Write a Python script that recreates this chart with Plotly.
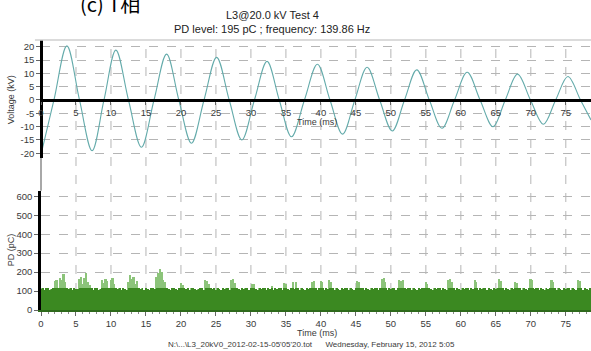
import plotly.graph_objects as go

# ---- voltage waveform: extrema and zero crossings (ms, kV) ----
volt_t = [0, 1.85, 3.7, 5.5, 7.3, 9.0, 10.7, 12.5, 14.35, 16.15, 17.95, 19.7,
          21.5, 23.3, 25.1, 26.9, 28.7, 30.5, 32.3, 34.05, 35.8, 37.65, 39.5,
          41.3, 43.1, 44.85, 46.6, 48.4, 50.2, 51.95, 53.7, 55.5, 57.3, 59.1,
          60.9, 62.75, 64.6, 66.35, 68.1, 69.95, 71.8, 73.55, 75.3, 77.1, 78.6]
volt_kv = [-20.5, 0, 20.3, 0, -19.0, 0, 18.7, 0, -17.7, 0, 17.2, 0,
           -16.2, 0, 16.0, 0, -15.0, 0, 14.5, 0, -13.8, 0, 13.4,
           0, -12.8, 0, 12.3, 0, -11.6, 0, 11.3, 0, -10.6, 0,
           10.4, 0, -10.0, 0, 9.7, 0, -9.1, 0, 8.8, 0, -7.5]

# ---- partial discharge level, one value per 0.25 ms bin (pC) ----
pd_step_ms = 0.25
pd_pc = [
    112, 118, 110, 116, 119, 108, 115, 117, 155, 162, 120, 170, 158, 192, 150, 118, 112, 116, 110, 117,
    112, 115, 165, 178, 140, 172, 198, 150, 135, 118, 110, 116, 119, 108, 115, 160, 142, 168, 155, 118,
    158, 170, 140, 118, 112, 116, 110, 119, 115, 108, 150, 185, 165, 178, 140, 155, 117, 112, 116, 110,
    118, 115, 108, 116, 119, 112, 175, 195, 220, 205, 160, 150, 118, 112, 110, 116, 119, 115, 108, 117,
    145, 132, 118, 112, 116, 110, 117, 119, 115, 108, 112, 116, 118, 110, 160, 155, 140, 118, 112, 116,
    110, 119, 115, 108, 117, 112, 116, 118, 110, 160, 165, 142, 119, 115, 108, 117, 112, 116, 118, 110,
    119, 140, 138, 115, 108, 117, 112, 116, 118, 110, 119, 115, 128, 108, 117, 112, 116, 118, 110, 145,
    140, 115, 108, 117, 150, 112, 148, 118, 110, 119, 115, 108, 117, 112, 116, 150, 155, 118, 110, 119,
    155, 150, 108, 117, 112, 160, 152, 118, 110, 119, 115, 108, 117, 112, 116, 118, 110, 119, 115, 108,
    117, 155, 148, 116, 118, 110, 119, 115, 108, 117, 112, 116, 118, 110, 119, 165, 170, 150, 108, 117,
    112, 116, 118, 110, 119, 160, 155, 158, 117, 112, 116, 118, 110, 119, 115, 108, 117, 112, 116, 118,
    150, 140, 119, 115, 108, 117, 112, 116, 118, 110, 119, 115, 108, 160, 165, 152, 118, 110, 119, 115,
    108, 117, 112, 116, 118, 110, 119, 115, 160, 152, 108, 117, 112, 116, 118, 110, 119, 115, 108, 117,
    112, 116, 165, 155, 118, 110, 119, 115, 108, 117, 112, 150, 145, 116, 118, 110, 119, 115, 108, 117,
    165, 158, 112, 116, 118, 110, 119, 115, 108, 117, 112, 116, 160, 150, 118, 110, 119, 115, 108, 117,
    112, 116, 118, 110, 119, 115, 108, 160, 155, 118, 110, 119, 115, 108, 117,
]
pd_t = [i * pd_step_ms for i in range(len(pd_pc))]

# ---- axis ticks ----
time_ticks = list(range(0, 80, 5))
volt_ticks = [-20, -15, -10, -5, 0, 5, 10, 15, 20]
pd_ticks = [0, 100, 200, 300, 400, 500, 600]

X_RANGE = [0, 78.6]
PD_CORE = 118  # darker core of each pulse bar

FONT = "Liberation Sans, Arial, sans-serif"
TICK_FONT = dict(family=FONT, size=9.5, color="#3a3a3a")
GRID = "#b5b5b5"

fig = go.Figure()

# light envelope (full PD level) behind a narrower dark core
fig.add_trace(go.Bar(
    x=pd_t, y=pd_pc, xaxis="x", yaxis="y",
    marker=dict(color="#8cc47a", line=dict(width=0)), width=pd_step_ms * 0.95,
    showlegend=False, hoverinfo="skip"))
fig.add_trace(go.Bar(
    x=pd_t, y=[min(v, PD_CORE) for v in pd_pc], xaxis="x", yaxis="y",
    marker=dict(color="#3b8921", line=dict(width=0)), width=pd_step_ms * 0.5,
    showlegend=False))

fig.add_trace(go.Scatter(
    x=volt_t, y=volt_kv, xaxis="x2", yaxis="y2", mode="lines",
    line=dict(color="#64abab", width=1.1, shape="spline", smoothing=1.0),
    showlegend=False))

# plot-area geometry (top edge 40 px, bottom edge 310 px)
top_dom = [0.563, 1.0]
bot_dom = [0.0, 0.442]
v_range = [-21.75, 22.5]
zero_pos = top_dom[0] + (0 - v_range[0]) / (v_range[1] - v_range[0]) * (top_dom[1] - top_dom[0])

shapes = []
# vertical dashed grid through both panels
for t in time_ticks[1:]:
    shapes.append(dict(type="line", xref="x", yref="paper", x0=t, x1=t, y0=0, y1=1,
                       line=dict(color=GRID, width=1, dash="dash"), layer="below"))
# frame line along the top
shapes.append(dict(type="line", xref="paper", yref="paper", x0=-0.011, x1=1, y0=1, y1=1,
                   line=dict(color="#cfcfcf", width=1.5)))
# grey spine between the panels
shapes.append(dict(type="line", xref="paper", yref="paper", x0=0, x1=0,
                   y0=bot_dom[1], y1=top_dom[0], line=dict(color="#a8a8a8", width=2)))


def note(text, x, y, size, color="#3a3a3a", angle=0, family=FONT):
    return dict(text=text, x=x, y=y, xref="paper", yref="paper", showarrow=False,
                xanchor="center", yanchor="middle", textangle=angle,
                font=dict(family=family, size=size, color=color))


annotations = [
    note("(c) T相", 0.126, 1.137, 20, color="#000", family="Noto Sans CJK SC"),
    note("L3@20.0 kV Test 4", 0.42, 1.0926, 11, color="#222"),
    note("PD level: 195 pC ; frequency: 139.86 Hz", 0.42, 1.0407, 11, color="#222"),
    note("Voltage (kV)", -0.054, 0.778, 9, angle=-90),
    note("PD (pC)", -0.054, 0.222, 9, angle=-90),
    note("Time (ms)", 0.502, 0.695, 9),
    note("Time (ms)", 0.502, -0.086, 9),
    note("N:\\...\\L3_20kV0_2012-02-15-05'05'20.tot&nbsp;&nbsp;&nbsp;&nbsp;&nbsp;&nbsp;"
         "Wednesday, February 15, 2012 5:05", 0.491, -0.1296, 8),
]

fig.update_layout(
    width=591, height=351,
    margin=dict(l=41, r=0, t=40, b=41),
    paper_bgcolor="white", plot_bgcolor="white",
    barmode="overlay", bargap=0,
    shapes=shapes, annotations=annotations,
    xaxis=dict(domain=[0, 1], range=X_RANGE, anchor="y", tickvals=time_ticks,
               ticktext=[str(t) for t in time_ticks], tickfont=TICK_FONT,
               ticks="outside", ticklen=4, tickcolor="#666", showgrid=False, zeroline=False,
               showline=True, linecolor="#2e6a1c", linewidth=1.5,
               minor=dict(ticks="outside", ticklen=2, dtick=1, tickcolor="#888")),
    yaxis=dict(domain=bot_dom, range=[0, 630], anchor="x", tickvals=pd_ticks,
               ticktext=[str(v) for v in pd_ticks], tickfont=TICK_FONT,
               ticks="outside", ticklen=4, tickcolor="#666",
               showgrid=True, gridcolor=GRID, griddash="dash", gridwidth=1, zeroline=False,
               showline=True, linecolor="#000", linewidth=2.5),
    xaxis2=dict(domain=[0, 1], range=X_RANGE, anchor="free", position=zero_pos,
                tickvals=time_ticks, ticktext=[str(t) for t in time_ticks], tickfont=TICK_FONT,
                ticks="outside", ticklen=3, tickcolor="#666", showgrid=False, zeroline=False,
                showline=True, linecolor="#000", linewidth=2.5),
    yaxis2=dict(domain=top_dom, range=v_range, anchor="free", position=0, tickvals=volt_ticks,
                ticktext=[str(v) for v in volt_ticks], tickfont=TICK_FONT,
                ticks="outside", ticklen=4, tickcolor="#666",
                showgrid=True, gridcolor=GRID, griddash="dash", gridwidth=1, zeroline=False,
                showline=True, linecolor="#000", linewidth=2.5),
)

fig.write_html("out.html")
